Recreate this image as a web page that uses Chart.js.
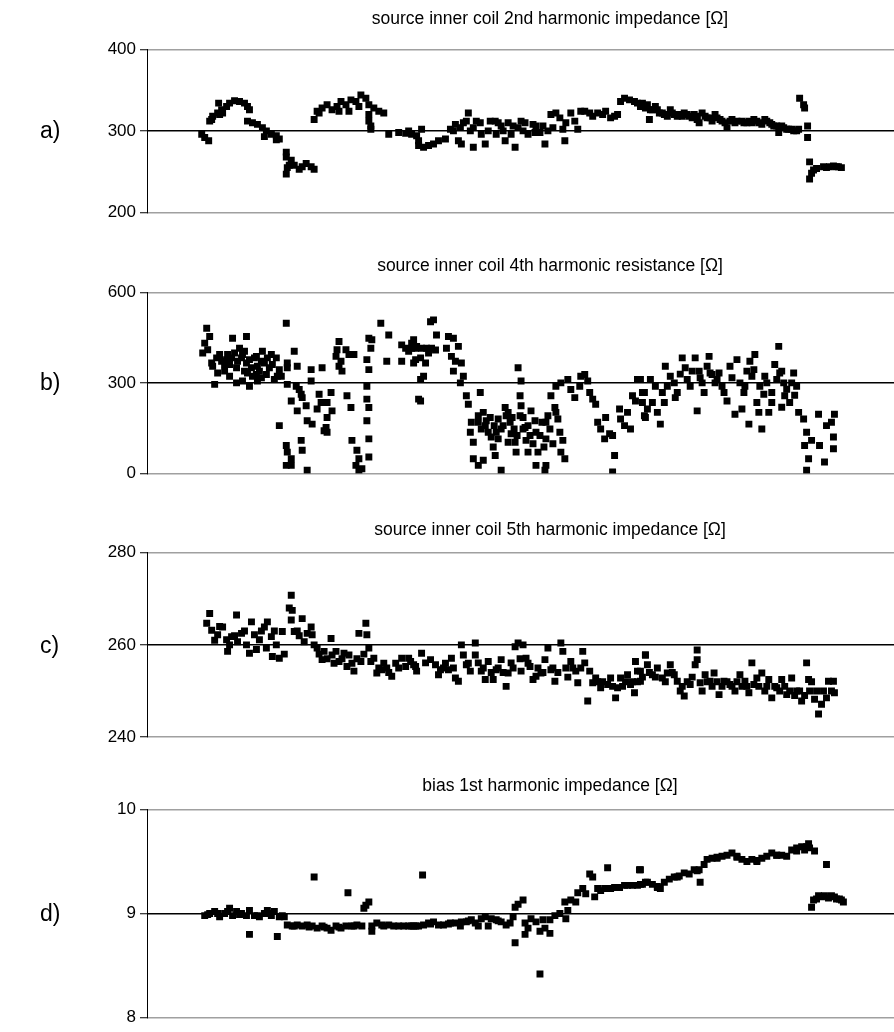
<!DOCTYPE html>
<html><head><meta charset="utf-8">
<script src="https://cdn.jsdelivr.net/npm/chart.js@4.4.1/dist/chart.umd.min.js"></script>
<style>
html,body{margin:0;padding:0;background:#fff;overflow:hidden;width:894px;height:1032px;}
#wrap{position:relative;width:894px;height:1032px;overflow:hidden;}
canvas{position:absolute;left:0;}
.lbl{position:absolute;left:40px;font-family:"Liberation Sans",Arial,sans-serif;font-size:23px;line-height:26px;color:#000;}
</style></head><body><div id="wrap">
<canvas id="ca" width="1100" height="230" style="top:0px"></canvas>
<canvas id="cb" width="1100" height="244" style="top:247px"></canvas>
<canvas id="cc" width="1100" height="244" style="top:511px"></canvas>
<canvas id="cd" width="1100" height="265" style="top:767px"></canvas>
<div class="lbl" style="top:117px">a)</div>
<div class="lbl" style="top:369px">b)</div>
<div class="lbl" style="top:632px">c)</div>
<div class="lbl" style="top:900px">d)</div>
</div>
<script>
// panel titles
const titles = [
  "source inner coil 2nd harmonic impedance [\u03a9]",
  "source inner coil 4th harmonic resistance [\u03a9]",
  "source inner coil 5th harmonic impedance [\u03a9]",
  "bias 1st harmonic impedance [\u03a9]"
];
// y-axis tick labels (min, mid, max) per panel
const ticksA = [200, 300, 400];
const ticksB = [0, 300, 600];
const ticksC = [240, 260, 280];
const ticksD = [8, 9, 10];

// a) 2nd harmonic impedance : sample number / value
const aX = [2,5,9,10,12,13,18,19,20,22,23,27,30,35,40,45,48,50,48,53,58,63,65,67,72,77,77,80,
 87,87,87,88,90,92,95,100,103,107,112,115,
 115,118,120,123,128,133,138,140,142,147,150,152,157,160,162,167,170,170,170,172,172,175,180,185,
 190,200,207,213,218,220,210,223,220,225,230,235,240,247,
 252,255,257,260,262,263,265,268,270,272,275,275,278,282,283,287,290,292,297,298,300,303,305,307,310,313,315,317,320,323,325,327,330,335,337,338,342,345,347,350,353,355,358,362,365,367,368,373,377,380,383,387,392,395,400,405,408,413,417,420,423,427,432,437,
 440,445,450,453,452,458,462,467,473,477,482,487,492,497,502,500,505,510,515,518,523,528,530,535,540,547,552,557,562,568,573,577,582,587,592,597,602,603,607,608,611,611,
 613,615,613,617,620,627,630,633,637,640,642,645,
 443,448,455,460,465,470,475,480,485,490,495,500,508,513,520,525,533,538,545,550,555,560,565,570,575,580,585,590,595,600];
const aY = [296,292,288,312,314,318,322,334,320,326,322,330,334,337,336,334,330,326,312,310,308,304,293,300,296,294,289,290,
 274,268,247,255,258,264,258,253,256,260,256,253,
 314,324,322,328,332,326,330,324,336,332,324,338,336,330,344,340,332,312,320,302,306,328,324,322,
 296,298,297,296,294,282,300,302,288,280,282,284,288,290,
 302,300,308,288,304,284,310,312,322,300,280,304,312,310,296,284,300,312,312,296,310,306,300,288,310,296,306,280,304,312,300,310,296,308,298,306,298,306,284,300,320,304,322,316,302,288,310,322,312,302,324,324,322,318,322,320,324,316,318,320,336,340,338,336,
 334,334,332,326,314,330,322,320,326,320,320,322,318,320,310,318,322,316,312,320,314,310,304,314,312,310,312,314,310,314,310,306,298,304,302,300,302,340,332,328,306,292,
 262,248,241,252,254,256,255,256,257,256,256,255,
 330,328,326,326,322,318,322,318,318,320,316,314,318,316,316,312,312,310,312,310,310,312,308,312,308,306,306,302,302,300];

// b) 4th harmonic resistance
const bX = [7,10,5,3,17,13,18,15,22,25,28,33,32,37,40,42,45,47,47,48,50,53,55,58,60,63,65,67,72,73,77,78,82,75,37,43,58,
 87,88,88,95,98,88,92,97,100,102,103,98,107,108,112,112,113,120,122,118,123,128,132,133,128,127,128,125,140,138,137,142,143,147,150,155,140,148,152,153,158,160,157,163,170,170,168,170,168,168,170,168,172,173,170,182,190,188,203,207,210,213,217,203,215,220,80,87,88,92,102,103,108,160,87,92,
 215,213,218,223,228,233,217,222,227,225,222,222,232,235,238,248,250,255,260,253,257,263,255,265,262,268,270,282,273,280,272,275,275,280,285,287,290,293,295,297,303,300,303,307,310,312,313,317,318,320,323,322,323,325,327,328,330,333,337,338,340,338,348,348,348,347,353,357,360,362,363,367,358,363,370,373,377,382,383,387,390,392,395,398,400,403,407,408,412,415,417,415,422,423,427,430,433,435,440,438,445,447,
 443,453,447,445,450,455,460,463,465,467,448,468,473,477,480,478,485,488,490,493,498,500,502,505,507,512,510,515,518,522,527,530,533,538,540,543,545,547,550,553,555,552,558,560,562,565,567,570,572,575,578,582,583,587,588,593,597,600,602,607,610,608,612,610,615,622,623,628,630,635,638,637,637,
 20,27,30,35,38,43,50,52,57,62,68,70,57,45,25,12,8,30,62,80,230,237,
 280,283,285,288,292,296,298,300,305,308,310,314,316,319,322,325,330,332,335,342,344,346,350,352,355,358,365,
 458,470,483,495,503,513,520,525,535,548,557,563,568,580,585,590,595,575,585,598];
const bY = [482,455,433,400,384,356,334,296,373,362,395,449,384,351,416,384,406,455,367,334,290,323,384,356,340,406,367,329,395,362,384,323,323,312,301,307,307,
 499,367,351,406,356,296,241,290,279,263,252,208,225,175,307,345,164,263,236,214,351,236,269,208,186,153,137,142,438,411,389,373,340,411,395,395,356,258,219,110,77,49,27,16,55,115,175,219,247,290,345,378,416,444,449,499,460,373,427,416,406,433,416,373,367,247,159,93,71,27,110,77,11,11,27,49,
 444,416,422,416,416,416,378,384,367,323,312,241,504,510,460,416,455,449,422,389,373,367,340,323,301,258,230,269,170,192,137,104,49,27,44,159,137,121,88,60,11,181,148,219,203,170,132,104,71,351,307,258,225,186,153,110,71,208,175,137,71,27,170,115,27,11,258,219,181,137,71,49,290,301,312,279,252,290,323,329,307,269,247,230,170,148,115,186,132,126,60,5,214,181,159,203,148,258,312,241,269,192,
 312,312,269,236,214,236,203,164,269,236,186,356,323,301,269,252,384,351,312,290,384,208,340,301,269,389,356,329,301,334,269,241,356,197,378,301,214,269,340,373,323,164,395,236,203,148,263,301,203,269,362,422,334,301,258,236,334,290,203,181,137,93,49,11,110,197,93,38,159,170,197,121,82,
 395,378,362,400,373,395,378,351,389,373,384,351,329,340,340,367,411,323,318,345,400,410,
 170,148,203,175,186,159,137,115,159,192,104,186,148,126,192,148,159,126,99,126,170,88,192,148,99,203,110,
 290,290,330,340,318,334,312,290,318,290,345,290,323,312,340,280,301,236,220,260];

// c) 5th harmonic impedance
const cX = [10,7,12,18,23,27,28,32,37,38,42,47,50,52,55,60,65,68,67,72,73,77,80,83,92,92,93,95,103,105,108,112,113,118,123,125,132,133,137,140,145,148,150,155,160,162,167,168,170,172,175,178,183,188,193,203,207,212,217,
 15,20,30,35,45,57,62,75,85,90,98,100,115,120,128,135,143,153,158,165,180,185,190,197,200,
 210,215,218,223,227,232,237,242,240,250,253,257,260,263,265,268,272,277,277,280,283,287,290,295,298,303,308,310,313,317,320,325,323,328,332,335,338,343,347,350,353,357,363,365,368,373,378,380,385,387,390,392,395,398,403,410,413,418,420,423,430,433,437,438,443,448,
 245,247,255,270,285,293,300,305,315,322,330,340,345,355,360,370,375,383,400,405,415,425,428,435,440,445,
 440,443,448,450,455,460,465,470,473,477,480,483,487,493,498,500,500,503,505,508,513,517,522,527,533,538,543,548,552,555,557,560,565,568,572,575,580,585,590,595,600,605,610,612,613,618,622,625,627,630,632,637,638,
 452,458,468,475,485,490,495,510,515,520,525,530,535,540,545,550,562,570,578,583,588,593,598,603,608,615,620,635];
const cY = [266.8,264.7,263.2,262.2,263.9,261.1,258.6,261.8,266.5,260.7,262.5,260,258.2,265,262.2,261.1,263.9,265,259.3,261.8,257.5,260,257.1,262.9,270.8,265.4,267.5,262.9,265.7,260.7,262.5,263.9,262.2,259.3,256.8,258.6,261.4,257.8,258.6,256.4,258.2,255.3,257.8,254.3,262.5,256.4,264.7,262.2,259.3,256.4,257.1,253.9,254.6,255,253.2,257.1,255.3,256.4,255.3,
 261,264,260,262,263,259,263,263,258,268,263,262,260,258,257,256,257,256,257,258,255,256,254,256,255,
 257.1,255.7,254.3,258.2,256.1,256.8,255.7,254.6,253.5,254.6,257.1,252.8,252.1,260,257.8,255.7,254.3,260.4,257.8,256.1,254.3,252.5,256.4,252.5,254.6,256.8,251,253.9,256.1,259.6,260.4,260,254.3,257.1,255.3,252.5,253.2,253.9,256.8,259.3,254.6,252.1,260.4,258.6,255,256.4,254.3,251.8,258.6,256.1,247.8,254.3,251.8,252.8,250.7,251.4,252.8,248.5,250.7,252.8,253.5,251.4,249.6,256.4,254.3,257.8,
 255,256,255,256,255,254,255,254,255,257,256,255,254,255,254,253,255,255,252,252,251,251,252,252,252,253,
 254.3,252.1,257.8,255.7,253.5,255,252.8,253.9,255.7,253.5,252.1,250,248.9,251.4,255.7,258.9,256.8,251.8,250,253.5,252.1,253.9,249.2,252.1,251.4,250,253.5,252.1,249.6,256.1,251.4,252.8,253.9,250,252.5,248.5,250.7,252.5,249.2,252.8,250,247.8,256.1,252.5,250,248.2,245,247.1,250,248.5,252.1,252.1,249.6,
 254,253,252,254,251,252,253,252,251,252,251,252,251,252,251,251,251,251,251,250,251,250,249,250,249,252,250,250];

// d) bias 1st harmonic impedance
const dX = [5,10,15,20,25,30,33,37,42,47,50,55,60,65,68,72,75,80,85,88,93,98,103,108,113,118,123,128,132,137,142,147,153,158,163,167,170,173,173,178,183,190,195,200,205,213,217,50,78,115,149,165,
 210,215,220,225,230,235,240,245,252,257,262,263,268,273,277,280,283,287,290,293,298,303,308,312,315,317,320,325,317,327,330,327,333,338,342,345,347,352,352,357,362,367,368,370,373,378,380,385,388,392,395,397,400,403,407,410,413,417,422,427,430,435,442,443,448,224,342,
 440,445,450,455,460,463,467,472,477,482,487,492,497,502,503,507,510,515,520,525,530,535,540,545,550,555,560,565,570,575,580,585,590,595,600,605,608,612,613,618,443,630,617,615,622,628,635,640,645,647,620,625,632,638,643,
 8,18,28,40,58,70,83,95,110,125,140,155,185,232,250,270,300,460,480,500,520,540,560,580,600,610];
const dY = [8.98,9.0,9.02,8.97,9.0,9.05,8.98,9.02,9.0,8.98,9.03,8.98,8.97,9.0,9.03,8.98,9.02,8.97,8.97,8.89,8.88,8.89,8.88,8.89,8.88,8.86,8.88,8.86,8.84,8.88,8.86,8.88,8.88,8.89,8.88,9.08,9.11,8.88,8.83,8.91,8.89,8.89,8.88,8.88,8.88,8.88,8.88,8.8,8.78,9.35,9.2,9.05,
 8.88,8.88,8.88,8.89,8.91,8.92,8.89,8.89,8.91,8.91,8.88,8.92,8.92,8.94,8.91,8.88,8.95,8.97,8.88,8.95,8.94,8.92,8.89,8.91,8.97,9.06,9.09,9.13,8.72,8.91,8.86,8.8,8.95,8.92,8.83,8.94,8.86,8.81,8.94,8.98,9.0,9.11,8.95,9.03,9.13,9.11,9.2,9.24,9.19,9.38,9.35,9.16,9.24,9.22,9.24,9.44,9.24,9.25,9.25,9.27,9.27,9.27,9.42,9.28,9.3,9.37,8.42,
 9.27,9.28,9.3,9.28,9.25,9.24,9.3,9.33,9.35,9.36,9.39,9.38,9.42,9.42,9.3,9.47,9.52,9.53,9.53,9.55,9.56,9.58,9.55,9.52,9.5,9.52,9.5,9.53,9.55,9.58,9.56,9.56,9.55,9.61,9.63,9.64,9.61,9.67,9.63,9.6,9.42,9.47,9.13,9.06,9.17,9.17,9.17,9.14,9.13,9.11,9.14,9.16,9.15,9.16,9.14,
 8.99,9.0,9.02,8.99,8.98,9.0,8.98,8.88,8.87,8.87,8.87,8.88,8.88,8.9,8.9,8.93,8.93,9.26,9.35,9.41,9.54,9.54,9.51,9.56,9.6,9.64];

const FONT = '"Liberation Sans", Arial, sans-serif';
const X_MIN = -53, X_MAX = 900;

function makeChart(id, title, xs, ys, ticks, padTop, padBot, layoutBottom) {
  const yMin = ticks[0], yMid = ticks[1], yMax = ticks[2];
  const pts = xs.map((x, i) => ({x: x, y: ys[i]}));
  return new Chart(document.getElementById(id), {
    type: 'scatter',
    data: {datasets: [{
      data: pts,
      pointStyle: 'rect',
      pointRadius: 4.9,
      pointHoverRadius: 4.9,
      pointBackgroundColor: '#000',
      pointBorderColor: '#000',
      pointBorderWidth: 0,
      showLine: false
    }]},
    options: {
      responsive: false,
      animation: false,
      devicePixelRatio: 1,
      events: [],
      layout: {padding: {left: 0, right: 0, top: 0, bottom: layoutBottom}},
      plugins: {
        legend: {display: false},
        tooltip: {enabled: false},
        title: {
          display: true, text: title, color: '#000',
          font: {family: FONT, size: 17.5, weight: 'normal', lineHeight: 1.2},
          padding: {top: padTop, bottom: padBot}
        }
      },
      scales: {
        x: {type: 'linear', display: false, min: X_MIN, max: X_MAX},
        y: {
          type: 'linear', min: yMin, max: yMax,
          afterFit: function (s) { s.width = 147; },
          afterBuildTicks: function (s) { s.ticks = ticks.map(v => ({value: v})); },
          ticks: {color: '#000', font: {family: FONT, size: 17}, padding: 4},
          border: {display: true, color: '#000', width: 1},
          grid: {
            drawOnChartArea: true,
            drawTicks: true,
            tickLength: 7,
            tickColor: '#000',
            tickWidth: 1,
            color: ctx => (ctx.tick && ctx.tick.value === yMid) ? '#000' : '#a0a0a0',
            lineWidth: 1.5
          }
        }
      }
    }
  });
}

makeChart('ca', titles[0], aX, aY, ticksA, 8.2, 20.1, 17.5);
makeChart('cb', titles[1], bX, bY, ticksB, 8.2, 16.6, 17.5);
makeChart('cc', titles[2], cX, cY, ticksC, 8.2, 12.6, 18);
makeChart('cd', titles[3], dX, dY, ticksD, 8.2, 13.1, 12);
</script>
</body></html>
